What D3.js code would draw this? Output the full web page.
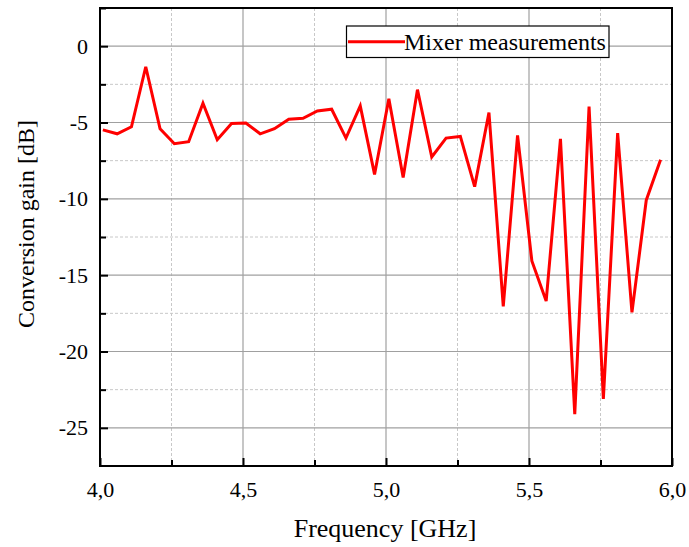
<!DOCTYPE html>
<html><head><meta charset="utf-8">
<script src="https://cdn.jsdelivr.net/npm/d3@7"></script>
<style>body{margin:0;background:#fff}svg{display:block}</style>
</head><body>
<svg id="c" width="689" height="547"></svg>
<script>
const freqs = [4.01,4.06,4.11,4.16,4.21,4.26,4.31,4.36,4.41,4.46,4.51,4.56,4.61,4.66,4.71,4.76,4.81,4.86,4.91,4.96,
               5.01,5.06,5.11,5.16,5.21,5.26,5.31,5.36,5.41,5.46,5.51,5.56,5.61,5.66,5.71,5.76,5.81,5.86,5.91,5.96];
const gain = [-5.48,-5.74,-5.28,-1.35,-5.41,-6.39,-6.26,-3.74,-6.13,-5.07,-5.04,-5.74,-5.41,-4.78,-4.72,-4.24,-4.13,-6.02,-3.91,-8.4,
              -3.45,-8.6,-2.85,-7.26,-6.02,-5.91,-9.2,-4.35,-17.05,-5.85,-14.07,-16.7,-6.07,-24.1,-3.96,-23.1,-5.7,-17.44,-10.09,-7.44];
const xTicks = [4.0,4.5,5.0,5.5,6.0];
const xMinor = [4.25,4.75,5.25,5.75];
const yTicks = [0,-5,-10,-15,-20,-25];
const yMinor = [2.5,-2.5,-7.5,-12.5,-17.5,-22.5];
const seriesName = "Mixer measurements";

const L=100,R=672,T=8,B=466;
const svg=d3.select("#c");
const x=d3.scaleLinear().domain([4,6]).range([L,R]);
const y=d3.scaleLinear().domain([-27.5,2.5]).range([B,T]);
const font="'Liberation Serif','Times New Roman',serif";
const fmt=d=>d3.format(".1f")(d).replace(".",",");

const g=svg.append("g");
// minor grid
g.selectAll(".xm").data(xMinor).join("line").attr("x1",d=>x(d)).attr("x2",d=>x(d)).attr("y1",T).attr("y2",B)
 .attr("stroke","#c8c8c8").attr("stroke-dasharray","3,2").attr("stroke-width",1);
g.selectAll(".ym").data(yMinor).join("line").attr("y1",d=>y(d)).attr("y2",d=>y(d)).attr("x1",L).attr("x2",R)
 .attr("stroke","#c8c8c8").attr("stroke-dasharray","3,2").attr("stroke-width",1);
// major grid
g.selectAll(".xg").data(xTicks.slice(1,-1)).join("line").attr("x1",d=>x(d)).attr("x2",d=>x(d)).attr("y1",T).attr("y2",B)
 .attr("stroke","#a0a0a0").attr("stroke-width",1.2);
g.selectAll(".yg").data(yTicks).join("line").attr("y1",d=>y(d)).attr("y2",d=>y(d)).attr("x1",L).attr("x2",R)
 .attr("stroke","#a0a0a0").attr("stroke-width",1.2);

// data line
const line=d3.line().x((d,i)=>x(freqs[i])).y(d=>y(d));
svg.append("path").datum(gain).attr("d",line).attr("fill","none").attr("stroke","#ff0000")
 .attr("stroke-width",3).attr("stroke-linejoin","miter");

// axes
const xa=svg.append("g").attr("transform",`translate(0,${B})`)
 .call(d3.axisBottom(x).tickValues(xTicks).tickSizeInner(-8).tickSizeOuter(0).tickFormat(fmt).tickPadding(16));
const xa2=svg.append("g").attr("transform",`translate(0,${B})`)
 .call(d3.axisBottom(x).tickValues(xMinor).tickSizeInner(-6).tickSizeOuter(0).tickFormat(""));
const ya=svg.append("g").attr("transform",`translate(${L},0)`)
 .call(d3.axisLeft(y).tickValues(yTicks).tickSizeInner(-8).tickSizeOuter(0).tickFormat(d3.format("d")).tickPadding(12));
const ya2=svg.append("g").attr("transform",`translate(${L},0)`)
 .call(d3.axisLeft(y).tickValues(yMinor).tickSizeInner(-6).tickSizeOuter(0).tickFormat(""));
[xa,xa2,ya,ya2].forEach(a=>{a.select(".domain").remove();a.selectAll("line").attr("stroke","#000").attr("stroke-width",2);
 a.selectAll("text").attr("font-family",font).attr("font-size",22).attr("fill","#000");});
ya.selectAll("text").text(d=>d===0?"0":"-"+Math.abs(d));
xa.selectAll("text").attr("dy",null).attr("y",null).attr("transform","translate(0,31)");

// frame
svg.append("rect").attr("x",L).attr("y",T).attr("width",R-L).attr("height",B-T)
 .attr("fill","none").attr("stroke","#000").attr("stroke-width",2);

// axis titles
svg.append("text").attr("x",385).attr("y",537).attr("text-anchor","middle")
 .attr("font-family",font).attr("font-size",26).text("Frequency [GHz]");
svg.append("text").attr("transform",`translate(34,224) rotate(-90)`).attr("text-anchor","middle")
 .attr("font-family",font).attr("font-size",24).text("Conversion gain [dB]");

// legend
const lg=svg.append("g");
lg.append("rect").attr("x",346.5).attr("y",26).attr("width",262.5).attr("height",31.5)
 .attr("fill","#fff").attr("stroke","#000").attr("stroke-width",1.2);
lg.append("line").attr("x1",348).attr("x2",405).attr("y1",41.7).attr("y2",41.7).attr("stroke","#ff0000").attr("stroke-width",3);
lg.append("text").attr("x",404).attr("y",50).attr("font-family",font).attr("font-size",24).text(seriesName);
</script>
</body></html>
